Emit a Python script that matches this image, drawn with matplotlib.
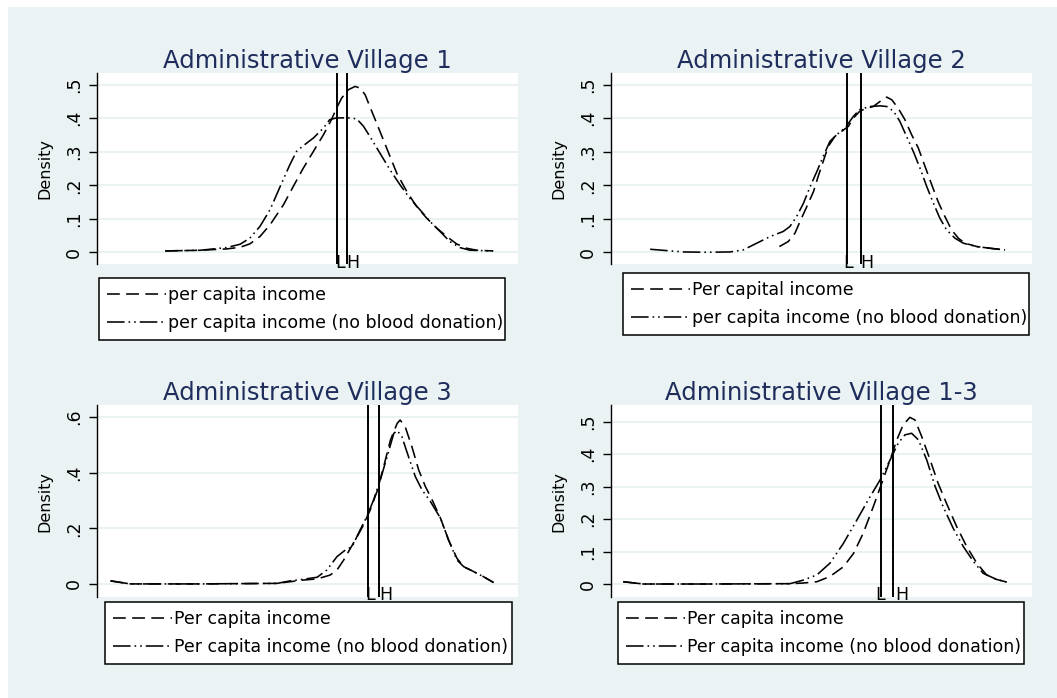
import matplotlib.pyplot as plt
from matplotlib.patches import Rectangle
from matplotlib.lines import Line2D

W, H = 1057, 698
BG = "#eaf2f3"
NAVY = "#1f2d5c"

titles = ["Administrative Village 1", "Administrative Village 2",
          "Administrative Village 3", "Administrative Village 1-3"]
labels_a = ["per capita income", "Per capital income",
            "Per capita income", "Per capita income"]
labels_b = ["per capita income (no blood donation)",
            "per capita income (no blood donation)",
            "Per capita income (no blood donation)",
            "Per capita income (no blood donation)"]

# --- Village 1 ---
v1_x = [1.62, 2.45, 3.08, 3.40, 3.63, 3.87, 4.11, 4.43, 4.66, 4.90, 5.14, 5.38, 5.57,
        5.69, 5.81, 5.97, 6.13, 6.25, 6.37, 6.48, 6.64, 6.80, 6.96, 7.12, 7.36, 7.59,
        7.83, 8.07, 8.31, 8.54, 8.78, 9.02, 9.41]
v1_d = [0.004, 0.006, 0.010, 0.015, 0.025, 0.047, 0.082, 0.142, 0.196, 0.251, 0.301,
        0.351, 0.396, 0.430, 0.460, 0.485, 0.495, 0.490, 0.470, 0.435, 0.386, 0.336,
        0.286, 0.236, 0.181, 0.137, 0.102, 0.072, 0.047, 0.025, 0.012, 0.006, 0.004]
v1nb_x = [1.62, 2.45, 3.08, 3.40, 3.63, 3.87, 4.11, 4.35, 4.58, 4.74, 4.90, 5.14, 5.38,
          5.53, 5.69, 6.01, 6.17, 6.33, 6.48, 6.72, 6.96, 7.20, 7.43, 7.67, 7.91, 8.15,
          8.38, 8.62, 8.86, 9.41]
v1nb_d = [0.004, 0.006, 0.014, 0.024, 0.042, 0.077, 0.127, 0.196, 0.261, 0.301, 0.318,
          0.341, 0.371, 0.396, 0.401, 0.401, 0.398, 0.376, 0.346, 0.296, 0.246, 0.201,
          0.161, 0.127, 0.092, 0.062, 0.032, 0.014, 0.006, 0.004]

# --- Village 2 ---
v2_x = [4.00, 4.21, 4.37, 4.49, 4.65, 4.81, 4.92, 5.04, 5.16, 5.32, 5.48, 5.64, 5.76,
        5.91, 6.07, 6.23, 6.39, 6.55, 6.67, 6.82, 6.98, 7.14, 7.30, 7.46, 7.62, 7.77,
        7.93, 8.09, 8.25, 8.41, 8.69, 9.00, 9.36]
v2_d = [0.017, 0.032, 0.057, 0.092, 0.136, 0.181, 0.226, 0.271, 0.316, 0.346, 0.361,
        0.376, 0.401, 0.421, 0.430, 0.435, 0.450, 0.463, 0.455, 0.430, 0.396, 0.351,
        0.311, 0.256, 0.201, 0.151, 0.107, 0.067, 0.042, 0.027, 0.017, 0.012, 0.007]
v2nb_x = [0.93, 1.32, 1.72, 2.27, 2.83, 3.14, 3.46, 3.78, 4.09, 4.25, 4.41, 4.57, 4.73,
          4.89, 5.04, 5.20, 5.36, 5.56, 5.76, 5.91, 6.15, 6.39, 6.55, 6.71, 6.86, 7.02,
          7.18, 7.34, 7.50, 7.66, 7.81, 7.97, 8.17, 8.37, 8.69, 9.00, 9.36]
v2nb_d = [0.009, 0.005, 0.001, 0.000, 0.001, 0.007, 0.027, 0.047, 0.062, 0.077, 0.107,
          0.146, 0.196, 0.241, 0.286, 0.331, 0.351, 0.371, 0.406, 0.426, 0.435, 0.437,
          0.435, 0.421, 0.391, 0.346, 0.301, 0.251, 0.196, 0.146, 0.102, 0.067, 0.042,
          0.027, 0.017, 0.012, 0.007]

# --- Village 3 ---
v3_x = [0.32, 0.79, 2.38, 4.28, 4.59, 4.91, 5.23, 5.54, 5.70, 5.86, 6.02, 6.18, 6.33,
        6.49, 6.65, 6.81, 6.97, 7.13, 7.20, 7.32, 7.48, 7.64, 7.80, 7.96, 8.16, 8.35,
        8.55, 8.71, 8.95, 9.18, 9.42]
v3_d = [0.011, 0.000, 0.000, 0.002, 0.008, 0.014, 0.018, 0.032, 0.050, 0.086, 0.128,
        0.170, 0.212, 0.266, 0.332, 0.422, 0.517, 0.577, 0.589, 0.565, 0.493, 0.410,
        0.350, 0.302, 0.236, 0.158, 0.092, 0.062, 0.044, 0.026, 0.005]
v3nb_x = [0.32, 0.79, 2.38, 4.28, 4.59, 4.91, 5.23, 5.46, 5.70, 5.90, 6.06, 6.25, 6.41,
          6.57, 6.73, 6.89, 7.05, 7.13, 7.24, 7.40, 7.56, 7.72, 7.92, 8.16, 8.35, 8.55,
          8.71, 8.95, 9.18, 9.42]
v3nb_d = [0.011, 0.000, 0.000, 0.002, 0.011, 0.017, 0.024, 0.050, 0.098, 0.122, 0.134,
          0.194, 0.242, 0.302, 0.374, 0.457, 0.541, 0.551, 0.530, 0.457, 0.386, 0.338,
          0.296, 0.236, 0.158, 0.086, 0.062, 0.044, 0.026, 0.005]

# --- Village 1-3 ---
v4_x = [0.29, 0.77, 2.35, 4.25, 4.57, 4.89, 5.20, 5.52, 5.76, 5.99, 6.23, 6.43, 6.63,
        6.79, 6.94, 7.10, 7.22, 7.38, 7.58, 7.77, 7.97, 8.21, 8.45, 8.69, 8.92, 9.16, 9.40]
v4_d = [0.007, 0.000, 0.000, 0.001, 0.003, 0.007, 0.023, 0.053, 0.094, 0.156, 0.238,
        0.310, 0.382, 0.444, 0.490, 0.513, 0.505, 0.454, 0.382, 0.310, 0.248, 0.177,
        0.115, 0.064, 0.028, 0.014, 0.006]
v4nb_x = [0.29, 0.77, 2.35, 4.25, 4.57, 4.89, 5.20, 5.52, 5.84, 6.11, 6.39, 6.63, 6.82,
          6.98, 7.14, 7.30, 7.50, 7.70, 7.89, 8.13, 8.37, 8.61, 8.84, 9.16, 9.40]
v4nb_d = [0.007, 0.000, 0.000, 0.001, 0.012, 0.028, 0.064, 0.125, 0.197, 0.259, 0.320,
          0.382, 0.433, 0.459, 0.464, 0.444, 0.382, 0.300, 0.238, 0.171, 0.115, 0.069,
          0.033, 0.014, 0.006]

# low / high reference lines (xline) and where their letters sit
line_L = [5.69, 5.60, 6.43, 6.41]
line_H = [5.95, 5.93, 6.71, 6.69]
text_L = [5.65, 5.52, 6.37, 6.27]
text_H = [5.91, 5.91, 6.70, 6.75]

yticks = [[0, .1, .2, .3, .4, .5], [0, .1, .2, .3, .4, .5],
          [0, .2, .4, .6], [0, .1, .2, .3, .4, .5]]
ylims = [(-0.035, 0.535), (-0.035, 0.535), (-0.047, 0.643), (-0.040, 0.551)]

curves = [(v1_x, v1_d, v1nb_x, v1nb_d), (v2_x, v2_d, v2nb_x, v2nb_d),
          (v3_x, v3_d, v3nb_x, v3nb_d), (v4_x, v4_d, v4nb_x, v4nb_d)]

# pixel boxes (left, top, right, bottom)
ax_px = [(97, 73, 518, 264), (611, 73, 1032, 264), (97, 405, 518, 597), (611, 405, 1032, 597)]
leg_px = [(99, 278, 505, 341), (623, 273, 1029, 334), (105, 602, 512, 662), (618, 602, 1024, 662)]

DASH = (0, (8, 4))
DDOT = (0, (11, 2.5, 1, 2.5, 1, 2.5))

plt.rcParams["font.family"] = "DejaVu Sans"

fig = plt.figure(figsize=(W / 100, H / 100), dpi=100)
fig.patch.set_facecolor("white")
fig.add_artist(Rectangle((8 / W, 0), 1 - 8 / W, 1 - 7 / H, transform=fig.transFigure,
                         facecolor=BG, edgecolor="none", zorder=-10))

for i in range(4):
    l, t, r, b = ax_px[i]
    ax = fig.add_axes([l / W, 1 - b / H, (r - l) / W, (b - t) / H])
    ax.set_facecolor("white")
    xa, da, xb, db = curves[i]

    ax.plot(xa, da, color="black", lw=1.15, linestyle=DASH)
    ax.plot(xb, db, color="black", lw=1.15, linestyle=DDOT)
    ax.axvline(line_L[i], color="black", lw=1.4)
    ax.axvline(line_H[i], color="black", lw=1.4)
    ax.annotate("L", (text_L[i], 0), xytext=(0, -1.5), textcoords="offset points",
                ha="left", va="top", fontsize=12.5)
    ax.annotate("H", (text_H[i], 0), xytext=(0, -1.5), textcoords="offset points",
                ha="left", va="top", fontsize=12.5)

    ax.set_xlim(0, 10)
    ax.set_ylim(*ylims[i])
    ax.set_xticks([])
    ax.set_yticks(yticks[i])
    ax.set_yticklabels(["0"] + [("%.1f" % v)[1:] for v in yticks[i][1:]],
                       rotation=90, va="center")
    ax.tick_params(axis="y", length=6, width=1, pad=4, labelsize=12.5)
    ax.grid(axis="y", color=BG, lw=1.5)
    ax.set_axisbelow(True)
    for s in ["top", "right", "bottom"]:
        ax.spines[s].set_visible(False)
    ax.spines["left"].set_linewidth(1.0)
    ax.set_ylabel("Density", fontsize=11.5)
    ax.yaxis.set_label_coords(-0.105, 0.5)
    ax.set_title(titles[i], fontsize=17.5, color=NAVY, pad=2)

    handles = [Line2D([], [], color="black", lw=1.15, linestyle=DASH),
               Line2D([], [], color="black", lw=1.15, linestyle=DDOT)]
    ll, lt, lr, lb = leg_px[i]
    leg = ax.legend(handles, [labels_a[i], labels_b[i]], loc="upper left",
                    bbox_to_anchor=(ll / W, 1 - lb / H, (lr - ll) / W, (lb - lt) / H),
                    bbox_transform=fig.transFigure, mode="expand", borderaxespad=0,
                    fontsize=12.5, handlelength=3.4, handletextpad=0.15,
                    labelspacing=0.6, borderpad=0.45, fancybox=False, framealpha=1)
    leg.get_frame().set_edgecolor("black")
    leg.get_frame().set_linewidth(1.1)

fig.savefig("out.png", dpi=100)
